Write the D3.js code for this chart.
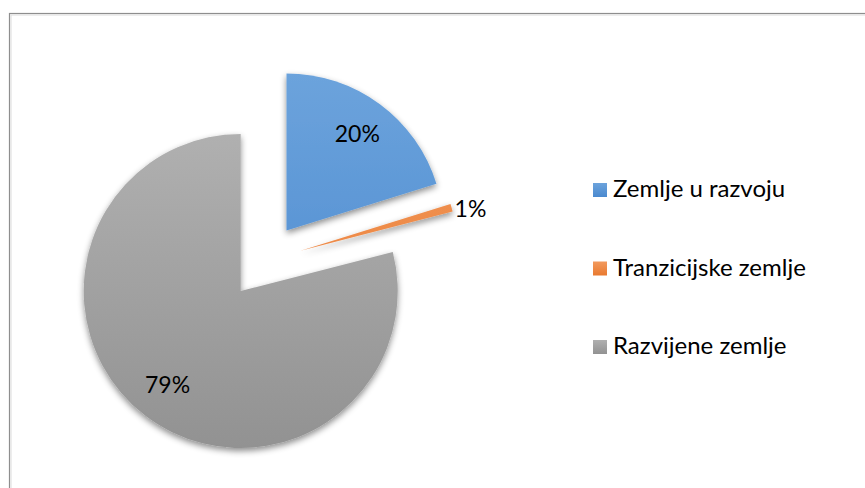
<!DOCTYPE html>
<html>
<head>
<meta charset="utf-8">
<script src="https://cdn.jsdelivr.net/npm/d3@7"></script>
<style>
  body { margin: 0; background: #fff; }
  text { font-family: Lato, "Open Sans", sans-serif; fill: #000; }
</style>
</head>
<body>
<div id="chart"></div>
<script>
// chart data
var categories = ["Zemlje u razvoju", "Tranzicijske zemlje", "Razvijene zemlje"];
var values = [20.2, 0.8, 79.0];
var labels = ["20%", "1%", "79%"];
var colorsTop = ["#6ca3dc", "#f29a5e", "#b0b0b0"];
var colorsBottom = ["#4a89cf", "#e9792f", "#929292"];

function drawPie(){
	var width = 865;
	var height = 488;
	var cx = 264, cy = 261;
	var radius = 157;
	var explode = 38;

	var svg = d3.select('#chart')
			.append('svg')
			.attr('width', width)
			.attr('height', height);

	// chart frame
	svg.append('rect')
		.attr('x', 9.5)
		.attr('y', 13.5)
		.attr('width', 880)
		.attr('height', 500)
		.style('fill', 'none')
		.style('stroke', '#8e8e8e')
		.style('stroke-width', 1.2);
	svg.append('rect')
		.attr('x', 11)
		.attr('y', 15)
		.attr('width', 880)
		.attr('height', 500)
		.style('fill', 'none')
		.style('stroke', '#dcdcdc')
		.style('stroke-width', 1);

	var defs = svg.append('defs');
	var shadow = defs.append('filter')
		.attr('id', 'shadow')
		.attr('x', '-20%').attr('y', '-20%')
		.attr('width', '140%').attr('height', '140%');
	shadow.append('feDropShadow')
		.attr('dx', 0)
		.attr('dy', 3)
		.attr('stdDeviation', 3)
		.attr('flood-color', '#000')
		.attr('flood-opacity', 0.45);

	categories.forEach(function(c, i){
		var grad = defs.append('linearGradient')
			.attr('id', 'grad' + i)
			.attr('gradientUnits', 'userSpaceOnUse')
			.attr('x1', 0).attr('y1', -radius)
			.attr('x2', 0).attr('y2', radius);
		grad.append('stop').attr('offset', '0%').attr('stop-color', colorsTop[i]);
		grad.append('stop').attr('offset', '100%').attr('stop-color', colorsBottom[i]);
	});

	var data = categories.map(function(c, i){
		return { name: c, value: values[i], label: labels[i], idx: i };
	});

	var pie = d3.pie()
		.sort(null)
		.value(function(d) { return d.value; });
	var arc = d3.arc().innerRadius(0).outerRadius(radius);
	var labelArc = d3.arc().innerRadius(radius * 0.76).outerRadius(radius * 0.76);

	var arcs = pie(data);

	var g = svg.append('g')
		.attr('transform', 'translate(' + cx + ',' + cy + ')');

	var slices = g.selectAll('.slice')
		.data(arcs)
		.enter()
		.append('g')
		.attr('class', 'slice')
		.attr('transform', function(d){
			var a = (d.startAngle + d.endAngle) / 2;
			return 'translate(' + (Math.sin(a) * explode) + ',' + (-Math.cos(a) * explode) + ')';
		});

	slices.append('path')
		.attr('d', arc)
		.attr('filter', 'url(#shadow)')
		.style('fill', function(d) { return 'url(#grad' + d.data.idx + ')'; });

	// data labels
	slices.append('text')
		.attr('transform', function(d){
			if (d.data.idx == 1) {
				var a = d.endAngle;
				return 'translate(' + (Math.sin(a) * (radius + 2)) + ',' + (-Math.cos(a) * (radius + 2) - 2) + ')';
			}
			return 'translate(' + labelArc.centroid(d) + ')';
		})
		.attr('dy', '0.35em')
		.attr('text-anchor', function(d) { return d.data.idx == 1 ? 'start' : 'middle'; })
		.style('font-size', '23px')
		.text(function(d) { return d.data.label; });

	// legend
	categories.forEach(function(c, i){
		var lg = defs.append('linearGradient')
			.attr('id', 'lg' + i)
			.attr('x1', 0).attr('y1', 0)
			.attr('x2', 0).attr('y2', 1);
		lg.append('stop').attr('offset', '0%').attr('stop-color', colorsTop[i]);
		lg.append('stop').attr('offset', '100%').attr('stop-color', colorsBottom[i]);
	});
	var legend = svg.append('g')
		.attr('transform', 'translate(593,183)');
	var rows = legend.selectAll('.row')
		.data(data)
		.enter()
		.append('g')
		.attr('class', 'row')
		.attr('transform', function(d, i) { return 'translate(0,' + (i * 78.5) + ')'; });
	rows.append('rect')
		.attr('width', 14)
		.attr('height', 14)
		.style('fill', function(d) { return 'url(#lg' + d.idx + ')'; });
	rows.append('text')
		.attr('x', 20)
		.attr('y', 14)
		.style('font-size', '24px')
		.text(function(d) { return d.name; });
}
drawPie();
</script>
</body>
</html>
